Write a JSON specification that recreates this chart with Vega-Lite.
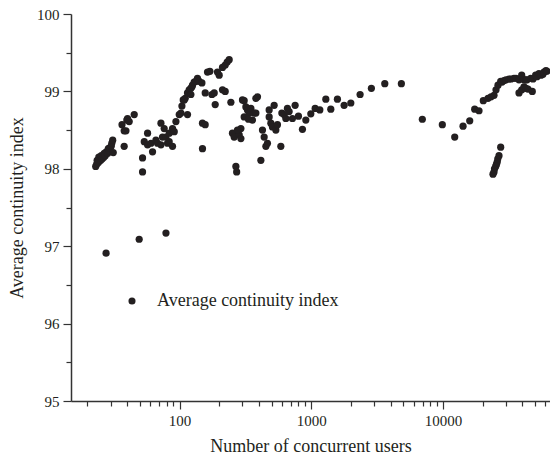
{
  "$schema": "https://vega.github.io/schema/vega-lite/v6.json",
  "autosize": "none",
  "width": 479,
  "height": 387,
  "padding": {"left": 71, "top": 14, "right": 0, "bottom": 60},
  "background": "white",
  "config": {
    "view": {"stroke": null},
    "font": "Liberation Serif",
    "axis": {
      "labelFont": "Liberation Serif",
      "titleFont": "Liberation Serif",
      "labelColor": "#231f20",
      "titleColor": "#231f20",
      "titleFontWeight": "normal",
      "domainColor": "#333333",
      "domainWidth": 1.5,
      "tickColor": "#333333",
      "tickWidth": 1.2,
      "grid": false
    }
  },
  "data": {
    "values": [
      {"users": 23.1, "aci": 98.03}, {"users": 23.5, "aci": 98.06}, {"users": 23.7, "aci": 98.11},
      {"users": 24.2, "aci": 98.08}, {"users": 24.4, "aci": 98.15}, {"users": 24.6, "aci": 98.10},
      {"users": 25.2, "aci": 98.11}, {"users": 25.5, "aci": 98.17}, {"users": 25.9, "aci": 98.13},
      {"users": 26.6, "aci": 98.15}, {"users": 26.8, "aci": 98.20}, {"users": 27.3, "aci": 98.17},
      {"users": 27.8, "aci": 98.22}, {"users": 28.5, "aci": 98.20}, {"users": 28.8, "aci": 98.26},
      {"users": 29.3, "aci": 98.23}, {"users": 29.5, "aci": 98.27}, {"users": 30.3, "aci": 98.29},
      {"users": 30.6, "aci": 98.33}, {"users": 31.1, "aci": 98.37}, {"users": 31.4, "aci": 98.21},
      {"users": 27.7, "aci": 96.91},
      {"users": 36.6, "aci": 98.57}, {"users": 38.0, "aci": 98.49}, {"users": 39.2, "aci": 98.49},
      {"users": 39.8, "aci": 98.63}, {"users": 40.3, "aci": 98.65}, {"users": 41.5, "aci": 98.61},
      {"users": 45.3, "aci": 98.70}, {"users": 38.0, "aci": 98.29},
      {"users": 52.4, "aci": 98.14}, {"users": 52.4, "aci": 97.96}, {"users": 49.4, "aci": 97.09},
      {"users": 78.9, "aci": 97.17}, {"users": 54.0, "aci": 98.35}, {"users": 57.2, "aci": 98.46},
      {"users": 57.2, "aci": 98.31}, {"users": 60.7, "aci": 98.33}, {"users": 62.4, "aci": 98.22},
      {"users": 66.2, "aci": 98.37}, {"users": 68.1, "aci": 98.33}, {"users": 72.3, "aci": 98.31},
      {"users": 72.3, "aci": 98.59}, {"users": 74.3, "aci": 98.41}, {"users": 76.5, "aci": 98.52},
      {"users": 78.9, "aci": 98.41}, {"users": 81.1, "aci": 98.33}, {"users": 83.5, "aci": 98.46},
      {"users": 83.5, "aci": 98.35}, {"users": 88.5, "aci": 98.29}, {"users": 88.5, "aci": 98.52},
      {"users": 91.2, "aci": 98.48}, {"users": 93.9, "aci": 98.61},
      {"users": 99.5, "aci": 98.70}, {"users": 102.5, "aci": 98.72}, {"users": 104.3, "aci": 98.81},
      {"users": 106.7, "aci": 98.89}, {"users": 108.6, "aci": 98.89}, {"users": 110.5, "aci": 98.91},
      {"users": 115.0, "aci": 98.98}, {"users": 115.0, "aci": 98.70}, {"users": 118.5, "aci": 99.02},
      {"users": 122.0, "aci": 99.04}, {"users": 122.0, "aci": 98.96}, {"users": 124.2, "aci": 99.06},
      {"users": 125.5, "aci": 99.08}, {"users": 129.2, "aci": 99.12}, {"users": 133.2, "aci": 99.13},
      {"users": 136.9, "aci": 99.17}, {"users": 141.1, "aci": 99.13}, {"users": 147.9, "aci": 99.11},
      {"users": 149.4, "aci": 98.59}, {"users": 156.7, "aci": 98.57}, {"users": 149.4, "aci": 98.26},
      {"users": 156.7, "aci": 98.98}, {"users": 176.2, "aci": 98.96}, {"users": 183.4, "aci": 98.98},
      {"users": 186.6, "aci": 98.83}, {"users": 212.0, "aci": 99.02}, {"users": 222.3, "aci": 99.00},
      {"users": 245.5, "aci": 98.86}, {"users": 163.1, "aci": 99.25}, {"users": 170.1, "aci": 99.26},
      {"users": 194.2, "aci": 99.25}, {"users": 200.1, "aci": 99.21}, {"users": 212.0, "aci": 99.31},
      {"users": 222.3, "aci": 99.34}, {"users": 230.1, "aci": 99.38}, {"users": 238.3, "aci": 99.41},
      {"users": 252.4, "aci": 98.46}, {"users": 260.0, "aci": 98.41}, {"users": 267.9, "aci": 98.03},
      {"users": 271.6, "aci": 97.96}, {"users": 283.8, "aci": 98.44}, {"users": 292.4, "aci": 98.52},
      {"users": 275.4, "aci": 98.50}, {"users": 292.4, "aci": 98.39}, {"users": 300.6, "aci": 98.89},
      {"users": 309.7, "aci": 98.67}, {"users": 319.0, "aci": 98.80}, {"users": 328.1, "aci": 98.76},
      {"users": 338.0, "aci": 98.72}, {"users": 348.2, "aci": 98.78}, {"users": 358.1, "aci": 98.63},
      {"users": 368.9, "aci": 98.72}, {"users": 380.0, "aci": 98.91}, {"users": 390.8, "aci": 98.93},
      {"users": 309.7, "aci": 98.88}, {"users": 333.9, "aci": 98.64}, {"users": 380.0, "aci": 98.72},
      {"users": 414.6, "aci": 98.11}, {"users": 426.4, "aci": 98.50}, {"users": 439.2, "aci": 98.41},
      {"users": 452.5, "aci": 98.29}, {"users": 465.3, "aci": 98.33}, {"users": 479.4, "aci": 98.76},
      {"users": 479.4, "aci": 98.67}, {"users": 493.8, "aci": 98.59}, {"users": 507.7, "aci": 98.54},
      {"users": 523.1, "aci": 98.82}, {"users": 538.9, "aci": 98.50}, {"users": 554.2, "aci": 98.57},
      {"users": 587.9, "aci": 98.29}, {"users": 598.3, "aci": 98.72}, {"users": 622.8, "aci": 98.70},
      {"users": 641.6, "aci": 98.65}, {"users": 659.7, "aci": 98.78}, {"users": 679.6, "aci": 98.74},
      {"users": 720.0, "aci": 98.65}, {"users": 754.6, "aci": 98.82}, {"users": 799.6, "aci": 98.68},
      {"users": 857.5, "aci": 98.51}, {"users": 910.0, "aci": 98.63},
      {"users": 993, "aci": 98.71}, {"users": 1071, "aci": 98.78}, {"users": 1162, "aci": 98.76},
      {"users": 1291, "aci": 98.90}, {"users": 1408, "aci": 98.77}, {"users": 1581, "aci": 98.90},
      {"users": 1777, "aci": 98.82}, {"users": 1998, "aci": 98.85}, {"users": 2350, "aci": 98.96},
      {"users": 2863, "aci": 99.04}, {"users": 3618, "aci": 99.10}, {"users": 4835, "aci": 99.10},
      {"users": 6977, "aci": 98.64}, {"users": 9895, "aci": 98.57}, {"users": 12288, "aci": 98.41},
      {"users": 14213, "aci": 98.55}, {"users": 15973, "aci": 98.62}, {"users": 17424, "aci": 98.77},
      {"users": 18789, "aci": 98.75}, {"users": 20253, "aci": 98.88}, {"users": 21989, "aci": 98.91},
      {"users": 23174, "aci": 98.93}, {"users": 24426, "aci": 98.95}, {"users": 25297, "aci": 99.02},
      {"users": 26182, "aci": 99.08}, {"users": 27448, "aci": 99.13}, {"users": 28080, "aci": 99.12},
      {"users": 29080, "aci": 99.14}, {"users": 30115, "aci": 99.15}, {"users": 31733, "aci": 99.16},
      {"users": 32862, "aci": 99.16}, {"users": 34633, "aci": 99.17}, {"users": 35861, "aci": 99.17},
      {"users": 37800, "aci": 99.15}, {"users": 39628, "aci": 99.21}, {"users": 41247, "aci": 99.15},
      {"users": 42490, "aci": 99.15}, {"users": 43470, "aci": 99.15}, {"users": 46380, "aci": 99.17},
      {"users": 48275, "aci": 99.16}, {"users": 50582, "aci": 99.21}, {"users": 51749, "aci": 99.19},
      {"users": 53590, "aci": 99.23}, {"users": 55498, "aci": 99.21}, {"users": 57474, "aci": 99.22},
      {"users": 58489, "aci": 99.25}, {"users": 60574, "aci": 99.27}, {"users": 61641, "aci": 99.26},
      {"users": 37800, "aci": 98.98}, {"users": 39628, "aci": 99.02}, {"users": 41247, "aci": 99.06},
      {"users": 42720, "aci": 99.04}, {"users": 44230, "aci": 99.03}, {"users": 47690, "aci": 99.00},
      {"users": 27448, "aci": 98.28}, {"users": 26650, "aci": 98.17}, {"users": 26100, "aci": 98.13},
      {"users": 25860, "aci": 98.09}, {"users": 25500, "aci": 98.06}, {"users": 25150, "aci": 98.03},
      {"users": 24630, "aci": 98.00}, {"users": 24426, "aci": 97.96}, {"users": 23990, "aci": 97.93}
    ]
  },
  "mark": {"type": "point", "filled": true, "shape": "circle", "size": 52, "opacity": 1},
  "encoding": {
    "x": {
      "field": "users",
      "type": "quantitative",
      "scale": {"type": "log", "domain": [15, 65000], "nice": false},
      "axis": {
        "title": "Number of concurrent users",
        "titleFontSize": 18,
        "titlePadding": 9,
        "labelFontSize": 15,
        "labelPadding": 4,
        "values": [20, 30, 40, 50, 60, 70, 80, 90, 100, 200, 300, 400, 500, 600, 700, 800, 900, 1000, 2000, 3000, 4000, 5000, 6000, 7000, 8000, 9000, 10000, 20000, 30000, 40000, 50000, 60000],
        "labelExpr": "indexof([100, 1000, 10000], datum.value) >= 0 ? format(datum.value, 'd') : ''",
        "tickSize": {"condition": {"test": "indexof([100, 1000, 10000], datum.value) >= 0", "value": 8}, "value": 5}
      }
    },
    "y": {
      "field": "aci",
      "type": "quantitative",
      "scale": {"domain": [95, 100], "nice": false, "zero": false},
      "axis": {
        "title": "Average continuity index",
        "titleFontSize": 18,
        "titlePadding": 10,
        "labelFontSize": 15,
        "labelPadding": 4,
        "values": [95, 95.5, 96, 96.5, 97, 97.5, 98, 98.5, 99, 99.5, 100],
        "labelExpr": "datum.value % 1 == 0 ? format(datum.value, 'd') : ''",
        "tickSize": {"condition": {"test": "datum.value % 1 == 0", "value": 8}, "value": 5}
      }
    },
    "color": {
      "datum": "Average continuity index",
      "type": "nominal",
      "scale": {"range": ["#231f20"]},
      "legend": {
        "orient": "none",
        "legendX": 52,
        "legendY": 278,
        "title": null,
        "symbolType": "circle",
        "symbolSize": 50,
        "symbolStrokeWidth": 0,
        "labelFont": "Liberation Serif",
        "labelFontSize": 18,
        "labelColor": "#231f20",
        "labelOffset": 16,
        "labelLimit": 0
      }
    }
  }
}
